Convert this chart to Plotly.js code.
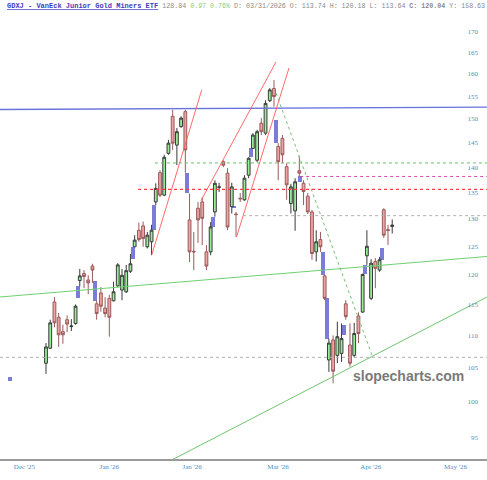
<!DOCTYPE html>
<html>
<head>
<meta charset="utf-8">
<script src="https://cdn.plot.ly/plotly-3.0.1.min.js"></script>
<style>html,body{margin:0;padding:0;background:#fff;}#chart{width:487px;height:480px;}</style>
</head>
<body>
<div id="chart"></div>
<script>
// Daily OHLC, GDXJ (trading-day index 0 = first visible session)
const open  = [105.7,108.0,115.4,112.9,110.6,112.5,111.4,111.9,119.0,120.2,
               119.1,121.5,115.1,116.9,114.4,116.0,115.6,118.1,117.4,117.1,
               120.6,124.9,127.9,128.7,124.9,125.8,133.2,138.9,134.5,142.8,
               150.6,144.5,148.4,151.6,129.8,124.1,132.0,133.2,124.0,124.0,
               131.3,136.0,141.1,138.8,132.3,130.9,133.9,133.6,138.4,143.8,
               141.4,149.1,147.0,154.0,156.7,144.2,145.9,140.1,132.9,131.5,
               139.3,136.8,134.3,131.3,124.0,126.2,119.8,106.2,109.3,106.9,
               107.2,115.1,108.5,106.9,113.1,113.74,123.3,116.0,122.3,120.8,
               131.7,128.0,128.6];
const high  = [108.8,112.5,116.2,113.6,111.7,113.2,112.6,115.0,121.0,120.8,
               119.9,121.9,115.6,117.9,116.2,116.6,118.8,122.0,121.0,121.7,
               123.6,127.0,129.3,129.5,127.6,128.9,136.8,139.4,142.5,145.6,
               152.0,148.1,150.6,152.0,134.8,127.6,133.2,134.1,125.2,129.4,
               137.4,136.9,141.4,139.8,136.9,131.3,134.9,138.4,142.0,147.0,
               147.7,150.2,154.1,156.8,158.6,144.9,146.6,140.8,136.7,137.8,
               142.3,137.4,134.9,131.7,127.9,127.6,120.0,109.5,110.0,112.2,
               111.9,115.7,111.9,112.0,113.7,120.18,127.9,122.7,122.9,123.1,
               132.0,128.9,129.9];
const low   = [104.1,107.9,111.3,108.2,108.7,110.5,110.7,111.7,118.0,117.7,
               116.7,118.6,112.5,113.8,112.9,109.8,115.5,117.9,115.7,116.9,
               120.3,124.9,125.8,124.9,124.6,123.4,132.6,134.1,134.3,142.5,
               143.5,140.4,148.1,138.9,122.2,120.8,125.6,125.2,120.8,123.4,
               130.4,135.1,140.0,127.9,131.0,126.7,133.2,133.4,137.8,143.8,
               141.0,146.6,146.6,153.7,152.7,137.4,140.8,133.6,131.0,127.8,
               138.2,132.6,130.9,122.6,122.3,124.0,115.7,104.4,102.7,105.7,
               105.9,112.5,105.2,106.6,108.8,113.64,121.7,115.7,117.7,120.5,
               126.5,125.2,127.3];
const close = [108.2,112.0,112.0,110.1,110.1,111.8,111.5,114.7,119.8,119.7,
               118.6,120.8,113.5,114.7,113.5,112.9,117.1,121.7,119.9,120.7,
               121.9,126.1,126.2,126.4,127.0,127.9,135.8,134.5,142.0,144.9,
               144.9,147.3,150.2,143.5,124.0,124.0,129.8,130.1,121.5,128.5,
               136.8,136.1,140.4,128.5,136.1,130.8,133.8,137.8,141.8,146.6,
               147.3,147.3,153.4,156.4,154.9,141.1,142.5,136.5,136.1,137.1,
               138.8,135.2,131.3,123.7,125.8,124.9,116.0,108.8,104.5,109.8,
               109.5,113.0,105.7,110.3,110.3,120.04,125.0,122.0,121.1,122.6,
               127.0,127.87,128.84];
const session = open.map((_, i) => i);

// Price gaps (blue blocks) between sessions
const gapAt = [-8.5, 7.5, 11.5, 20.5, 25.5, 33.5, 39.5, 44.6, 48.5, 54.5, 60.2, 65.5, 66.5, 70.5, 75.5, 79.5];
const gapLo = [103.0,116.0,115.6,122.7,127.9,134.9,128.5,132.0,142.0,144.9,137.1,120.0,109.5,110.1,120.2,122.6];
const gapHi = [103.6,118.0,118.9,124.9,132.6,138.9,130.4,132.4,143.8,149.8,138.2,124.0,116.0,111.7,121.7,124.6];

// Drawn studies: [start, end] in (session, price)
const resistX = [-10.9, 104.45], resistY = [152.06, 152.56];
const upperTrendX = [-10.9, 104.45], upperTrendY = [116.23, 123.18];
const lowerTrendX = [30.08, 104.45], lowerTrendY = [92.1, 116.23];
const fallX = [54.48, 77.2], fallY = [155.7, 106.95];
const chan1X = [25.04, 36.88], chan1Y = [123.44, 156.37];
const chan2X = [36.71, 54.48], chan2Y = [133.44, 162.8];
const chan3X = [45.12, 57.56], chan3Y = [126.66, 161.4];
const lvlGreen = 140.85, lvlGreenFrom = 25.8;
const lvlPink = 138.15, lvlPinkFrom = 60.2;
const lvlRed = 135.6, lvlRedFrom = 21.8;
const lvlGrey1 = 130.6, lvlGrey1From = 46.7;
const lvlGrey2 = 106.6, lvlGrey2From = -10.9;
const xEnd = 104.45;

// Axis ticks
const monthPos = [-5.1, 14.97, 34.6, 54.95, 76.93, 96.99];
const monthText = ["Dec '25", "Jan '26", "Jan '26", "Mar '26", "Apr '26", "May '26"];
const priceTicks = [95,100,105,110,115,120,125,130,135,140,145,150,155,160,165,170];

const seg = (x, y, color, dash, w) => ({
  type: 'scatter', mode: 'lines', x: x, y: y, hoverinfo: 'skip',
  line: {color: color, width: w || 1, dash: dash || 'solid'}
});
const lvl = (v, from, color, w) => seg([from, xEnd], [v, v], color, 'dot', w || 1);

const traces = [
  {
    type: 'bar', x: gapAt, base: gapLo, y: gapHi.map((h, i) => h - gapLo[i]),
    width: 0.95, marker: {color: '#7b7bd8', line: {width: 0}}, hoverinfo: 'skip'
  },
  {
    type: 'candlestick', x: session, open: open, high: high, low: low, close: close,
    increasing: {fillcolor: '#98ec98', line: {color: '#3a3a3a', width: 1}},
    decreasing: {fillcolor: '#eba3a3', line: {color: '#9a5a5a', width: 1}},
    whiskerwidth: 0, hoverinfo: 'skip'
  },
  seg(resistX, resistY, '#6a72dc', 'solid', 1.3),
  seg(upperTrendX, upperTrendY, '#6fd06f', 'solid', 1),
  seg(lowerTrendX, lowerTrendY, '#6fc46f', 'solid', 1),
  seg(fallX, fallY, '#77c077', 'dot', 1),
  seg(chan1X, chan1Y, '#ff5a5a', 'solid', 0.9),
  seg(chan2X, chan2Y, '#ff5a5a', 'solid', 0.9),
  seg(chan3X, chan3Y, '#ff5a5a', 'solid', 0.9),
  lvl(lvlGreen, lvlGreenFrom, '#66c266'),
  lvl(lvlPink, lvlPinkFrom, '#e040b0'),
  lvl(lvlRed, lvlRedFrom, '#ff3b3b', 1.2),
  lvl(lvlGrey1, lvlGrey1From, '#b0b0b0'),
  lvl(lvlGrey2, lvlGrey2From, '#b0b0b0')
];

const tickFont = {family: 'Liberation Serif, serif', size: 7, color: '#4f8fbf'};

const titleText =
  '<span style="color:#3b3bc4;text-decoration:underline;font-size:7px"><b>GDXJ - VanEck Junior Gold Miners ETF</b></span>' +
  '<span style="font-size:6.65px"> <span style="color:#8a8a8a">128.84</span> ' +
  '<span style="color:#86cc86">0.97 0.76%</span> ' +
  '<span style="color:#8a8a8a">D: 03/31/2026 O: 113.74 H: 120.18 L: 113.64 </span>' +
  '<b>C: 120.04</b><span style="color:#8a8a8a"> Y: 158.63</span></span>';

const layout = {
  width: 487, height: 480,
  margin: {l: 0, r: 0, t: 18, b: 21, pad: 0},
  paper_bgcolor: '#ffffff', plot_bgcolor: '#ffffff',
  showlegend: false, boxgap: 0.05, bargap: 0,
  font: {family: 'Liberation Serif, serif'},
  xaxis: {
    range: [-10.895, 104.45], tickvals: monthPos, ticktext: monthText,
    showgrid: false, zeroline: false, showline: true, linecolor: '#9a9a9a', linewidth: 2,
    ticks: '', tickfont: tickFont, rangeslider: {visible: false}, fixedrange: true
  },
  yaxis: {
    type: 'log', range: [1.96447, 2.23898], side: 'right',
    tickvals: priceTicks, ticktext: priceTicks.map(String),
    ticklabelposition: 'inside', ticks: '', ticklabelstandoff: 6,
    showgrid: false, zeroline: false, showline: false, tickfont: tickFont, fixedrange: true
  },
  annotations: [
    {
      xref: 'paper', yref: 'paper', x: 5 / 487, y: (459 - 6) / 441,
      xanchor: 'left', yanchor: 'middle', showarrow: false, align: 'left',
      text: titleText, font: {family: 'Liberation Mono, monospace', size: 7, color: '#8a8a8a'}
    },
    {
      xref: 'paper', yref: 'paper', x: 408 / 487, y: (459 - 376) / 441,
      xanchor: 'center', yanchor: 'middle', showarrow: false,
      text: '<b>slopecharts.com</b>',
      font: {family: 'Liberation Sans, Arial, sans-serif', size: 14, color: '#7a7a7a'}
    }
  ]
};

Plotly.newPlot('chart', traces, layout, {displayModeBar: false, staticPlot: true});
</script>
</body>
</html>
